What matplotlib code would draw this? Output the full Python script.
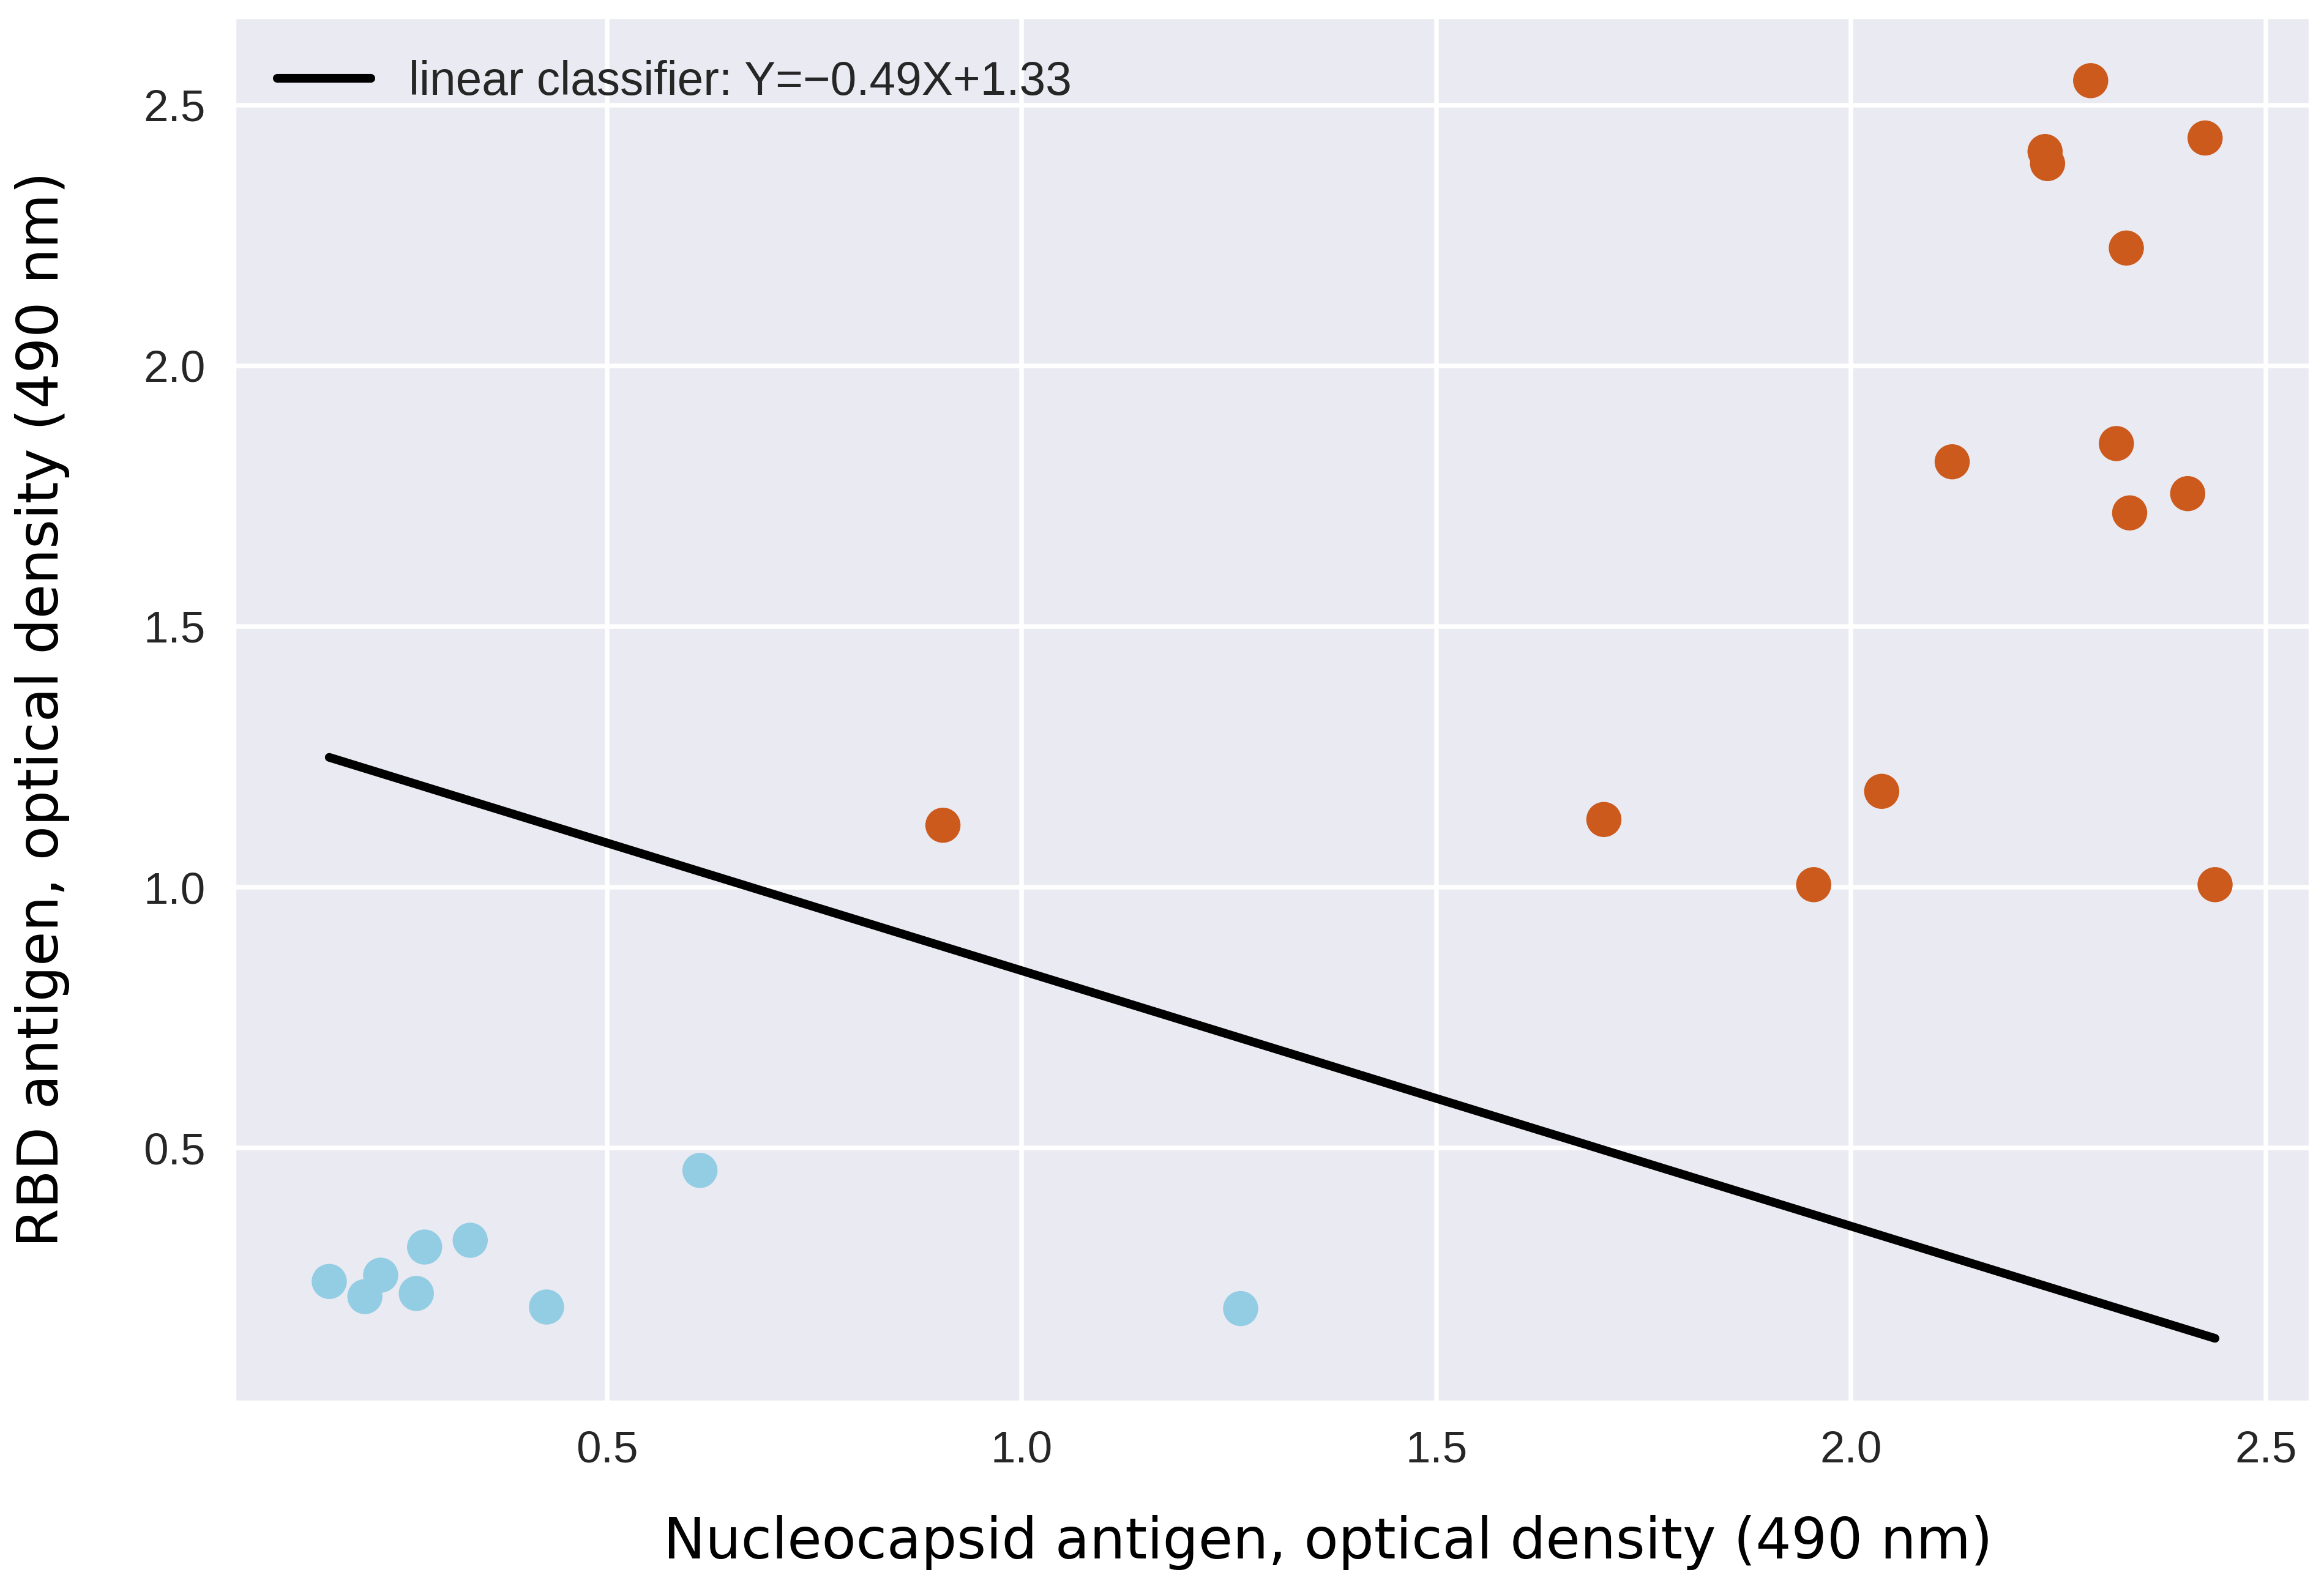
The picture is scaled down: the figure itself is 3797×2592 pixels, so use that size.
import numpy as np
import matplotlib
matplotlib.use("Agg")
import matplotlib.pyplot as plt
import seaborn as sns

# Positive samples (orange)
pos_x = [2.289, 2.234, 2.237, 2.427, 2.332, 2.122, 2.320, 2.336, 2.406,
         0.905, 1.702, 2.037, 1.955, 2.439]
pos_y = [2.547, 2.411, 2.388, 2.437, 2.226, 1.816, 1.851, 1.718, 1.755,
         1.119, 1.130, 1.184, 1.005, 1.005]

# Negative samples (light blue)
neg_x = [0.165, 0.227, 0.208, 0.280, 0.270, 0.335, 0.427, 0.612, 1.264]
neg_y = [0.244, 0.256, 0.215, 0.310, 0.221, 0.323, 0.195, 0.457, 0.192]

# Linear classifier Y = slope*X + intercept
slope = -0.49
intercept = 1.33
line_label = "linear classifier: Y=\u22120.49X+1.33"

sns.set_style("darkgrid")
plt.rcParams['font.family'] = ['Liberation Sans', 'DejaVu Sans']
plt.rcParams['grid.linewidth'] = 1.8

fig = plt.figure(figsize=(3797 / 300, 2592 / 300), dpi=300)
ax = fig.add_axes([0.1011, 0.1165, 0.8926, 0.8723])

ax.scatter(pos_x, pos_y, s=190, color="#CB5A1C", edgecolors="none", zorder=3)
ax.scatter(neg_x, neg_y, s=190, color="#93CDE4", edgecolors="none", zorder=3)

all_x = np.array(pos_x + neg_x)
xs = np.linspace(all_x.min(), all_x.max(), 50)
ax.plot(xs, slope * xs + intercept, color="black", linewidth=3.4, label=line_label, zorder=4)

ax.set_xticks([0.5, 1.0, 1.5, 2.0, 2.5])
ax.set_yticks([0.5, 1.0, 1.5, 2.0, 2.5])
ax.tick_params(axis='both', labelsize=17.5, labelcolor='#262626', pad=8)

ax.set_xlabel("Nucleocapsid antigen, optical density (490 nm)", fontsize=22,
              family='DejaVu Sans', color='black', labelpad=17)
ax.set_ylabel("RBD antigen, optical density (490 nm)", fontsize=22,
              family='DejaVu Sans', color='black', labelpad=29)
ax.xaxis.label.set_x(0.527)

ax.legend(loc='upper left', frameon=False, fontsize=18.4)

fig.savefig("out.png", dpi=300)
